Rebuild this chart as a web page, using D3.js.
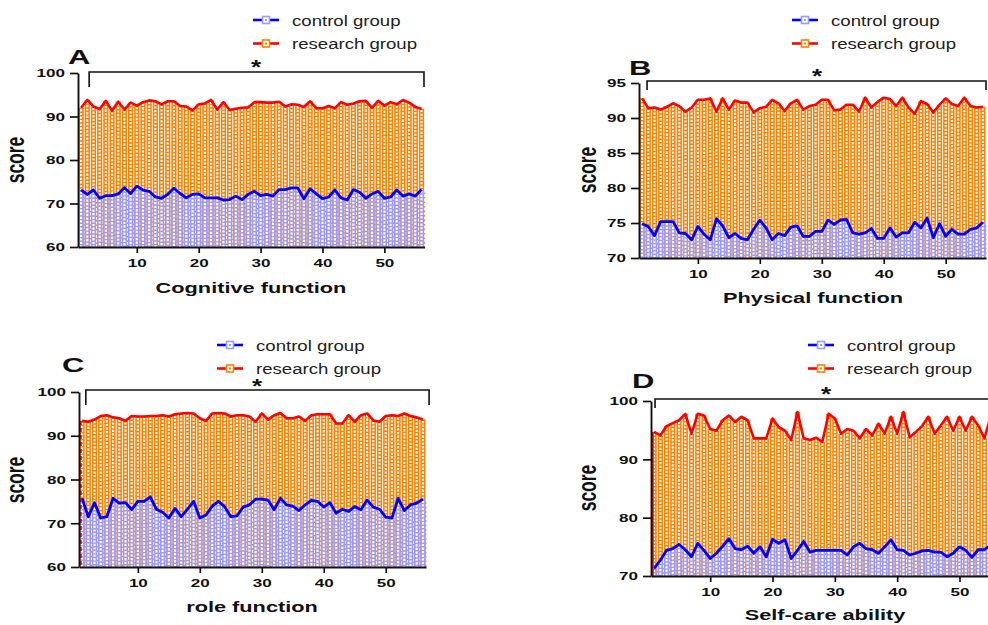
<!DOCTYPE html>
<html lang="en">
<head>
<meta charset="UTF-8">
<title>Score panels</title>
<script src="https://d3js.org/d3.v7.min.js"></script>
<style>
    body, html { margin: 0; padding: 0; background: #fff; }
    svg { display: block; }
    text { font-family: "Liberation Sans", Arial, sans-serif; fill: #111; }
</style>
</head>
<body>
<div id="chart"></div>
<script>
// values, one entry per subject (1..56)
const cogResearch = [92.0,93.8,92.3,91.7,93.6,91.3,93.4,91.6,93.2,92.5, 93.3,93.7,93.5,92.8,93.5,93.5,92.4,92.3,91.4,92.8,
    93.0,93.8,91.6,93.3,91.5,91.8,92.0,92.1,93.3,93.3, 93.2,93.2,93.4,92.3,92.8,92.7,92.2,93.5,91.9,91.9,
    92.4,91.9,93.3,92.7,93.0,93.5,93.6,92.0,93.6,92.5, 93.3,92.8,93.8,93.2,92.2,91.8];
const cogControl = [73.1,72.1,73.1,71.2,71.8,71.8,72.2,73.6,72.3,74.0, 73.1,72.8,71.5,71.2,72.1,73.5,72.3,71.3,72.1,72.2,
    71.3,71.3,71.3,70.8,70.9,71.7,70.9,72.1,72.8,71.8, 72.1,71.7,73.2,73.2,73.6,73.6,71.1,73.4,72.2,71.1,
    71.5,73.1,71.3,70.8,73.2,72.6,71.2,72.2,72.8,71.2, 71.5,73.1,71.7,72.2,71.7,73.2];
const physResearch = [92.8,91.4,91.5,91.2,91.6,92.1,91.7,90.9,91.5,92.6, 92.6,92.8,90.9,92.8,91.2,92.5,92.2,92.2,90.8,91.4,
    91.6,92.6,92.1,91.0,92.1,92.6,91.2,91.7,91.9,92.6, 92.6,91.1,91.2,91.9,91.9,90.9,92.9,91.5,92.3,92.9,
    92.7,91.7,92.9,91.5,90.6,92.4,92.0,90.8,91.9,92.8, 92.0,91.7,92.9,91.7,91.5,91.6];
const physControl = [74.9,74.5,73.2,75.2,75.2,75.2,73.6,73.5,72.6,74.5, 73.4,72.6,75.6,74.6,72.9,73.5,72.8,72.6,74.1,75.4,
    74.3,72.6,73.5,73.2,74.4,74.6,73.1,73.1,73.8,73.8, 75.4,74.8,75.4,75.5,73.6,73.4,73.6,74.2,72.8,72.8,
    74.3,73.0,73.6,73.6,75.1,74.3,75.7,72.9,74.9,73.1, 74.1,73.4,73.4,74.1,74.3,75.1];
const roleResearch = [93.4,93.2,93.7,94.5,94.7,94.2,94.0,93.4,94.5,94.4, 94.4,94.5,94.5,94.7,94.4,94.9,95.1,95.2,95.1,94.0,
    93.4,95.1,95.2,95.1,94.4,94.7,94.7,94.4,93.2,95.1, 93.7,94.7,95.2,94.0,94.0,94.4,93.4,94.7,94.9,94.9,
    94.9,92.8,92.8,94.7,93.2,94.7,95.1,93.5,93.2,94.5, 94.7,94.5,95.1,94.5,94.2,93.7];
const roleControl = [75.7,71.5,74.7,71.2,71.5,75.7,74.6,74.7,73.1,75.0, 75.0,76.0,73.2,72.5,71.2,73.4,71.5,73.2,75.0,71.2,
    71.9,73.9,75.0,73.8,71.5,71.7,73.7,74.2,75.5,75.5, 75.3,73.1,75.7,74.2,73.9,72.9,74.2,75.2,75.0,73.7,
    74.7,72.3,73.2,72.7,73.8,73.1,75.3,73.7,73.2,71.4, 71.2,75.7,72.9,74.2,74.6,75.5];
const selfResearch = [94.7,94.1,95.7,96.2,96.7,97.8,94.4,97.8,97.5,95.2, 94.9,96.7,97.5,96.4,97.3,96.7,93.6,93.6,93.6,97.0,
    95.5,94.9,93.3,98.1,93.6,93.3,93.7,93.0,97.8,97.0, 94.4,95.2,94.9,93.6,95.2,94.1,96.1,94.4,97.3,94.4,
    98.1,93.8,94.7,95.7,97.3,94.4,95.8,97.3,94.9,97.3, 94.9,97.3,95.8,93.6,97.3,95.0];
const selfControl = [71.3,72.7,74.4,74.7,75.4,74.5,73.3,75.6,74.4,73.0, 73.9,75.1,76.4,74.7,74.5,75.1,73.9,75.0,73.3,76.3,
    75.6,76.2,73.0,74.4,75.9,74.1,74.4,74.4,74.4,74.4, 74.4,73.6,75.0,75.6,74.7,74.5,73.9,75.0,76.2,74.5,
    74.4,73.6,73.9,74.3,74.4,74.1,74.1,73.3,73.9,75.0, 74.4,73.2,74.5,74.5,75.3,75.3];

const seriesNames = ["control group", "research group"];
const xTicks = [10, 20, 30, 40, 50];

const ORANGE = "#ff8000", PURPLE = "#9a9aff", RED = "#ff0000", BLUE = "#0000ff";

const panels = [
    { letter: "A", title: "Cognitive function", research: cogResearch, control: cogControl,
      yDomain: [60, 100], yTicks: [60, 70, 80, 90, 100],
      x0: 78, x1: 424.6, yTop: 73, yBot: 247, bracket: [2.3, 56.4], bracketY: 72, leg: 15,
      star: [256, 68], letterPos: [68, 64], legend: [253, 20], yLab: [18, 160], xLab: [251, 293], startLine: null },
    { letter: "B", title: "Physical function", research: physResearch, control: physControl,
      yDomain: [70, 95], yTicks: [70, 75, 80, 85, 90, 95],
      x0: 639, x1: 986, yTop: 83, yBot: 258, bracket: [1.8, 56.5], bracketY: 81, leg: 9,
      star: [817, 77], letterPos: [629, 75], legend: [792, 20], yLab: [590, 170], xLab: [813, 303], startLine: null },
    { letter: "C", title: "role function", research: roleResearch, control: roleControl,
      yDomain: [60, 100], yTicks: [60, 70, 80, 90, 100],
      x0: 79, x1: 426, yTop: 392, yBot: 567, bracket: [1.6, 57], bracketY: 390, leg: 15,
      star: [257, 387], letterPos: [62, 372], legend: [217, 345], yLab: [18, 480], xLab: [252, 612], startLine: "4,3" },
    { letter: "D", title: "Self-care ability", research: selfResearch, control: selfControl,
      yDomain: [70, 100], yTicks: [70, 80, 90, 100],
      x0: 651, x1: 1000, yTop: 401, yBot: 576, bracket: [1.15, 60], bracketY: 399, leg: 9,
      star: [826, 395], letterPos: [632, 388], legend: [808, 345], yLab: [590, 488], xLab: [825, 620], startLine: "none" }
];

const svg = d3.select("#chart").append("svg")
    .attr("width", 988)
    .attr("height", 625);

function wideText(g, x, y, str, size, weight, sx, anchor) {
    return g.append("text")
        .attr("transform", `translate(${x},${y}) scale(${sx},1)`)
        .attr("text-anchor", anchor || "start")
        .style("font-size", size + "px")
        .style("font-weight", weight)
        .text(str);
}

function drawPanel(p) {
    const g = svg.append("g");
    const x = d3.scaleLinear().domain([0.5, 56.5]).range([p.x0, p.x1]);
    const y = d3.scaleLinear().domain(p.yDomain).range([p.yBot, p.yTop]);
    const band = x(1.5) - x(0.5);
    const bw = band * 0.84;
    const idx = (d, i) => i + 1;

    // research bars (orange grid)
    const bars = g.append("g");
    bars.selectAll(".rb").data(p.research).join("rect")
        .attr("x", (d, i) => x(idx(d, i)) - bw / 2)
        .attr("width", bw)
        .attr("y", d => y(d))
        .attr("height", d => p.yBot - y(d))
        .attr("fill", ORANGE);
    bars.selectAll(".rd").data(p.research).join("line")
        .attr("x1", (d, i) => x(idx(d, i))).attr("x2", (d, i) => x(idx(d, i)))
        .attr("y1", d => y(d) + 1.5).attr("y2", p.yBot)
        .attr("stroke", "#fff").attr("stroke-width", band * 0.34)
        .attr("stroke-dasharray", "2.2,1.4");

    // control bars (purple grid) on top
    bars.selectAll(".cb").data(p.control).join("rect")
        .attr("x", (d, i) => x(idx(d, i)) - bw / 2)
        .attr("width", bw)
        .attr("y", d => y(d))
        .attr("height", d => p.yBot - y(d))
        .attr("fill", PURPLE);
    bars.selectAll(".cd").data(p.control).join("line")
        .attr("x1", (d, i) => x(idx(d, i))).attr("x2", (d, i) => x(idx(d, i)))
        .attr("y1", d => y(d) + 1.5).attr("y2", p.yBot)
        .attr("stroke", "#fff").attr("stroke-width", band * 0.34)
        .attr("stroke-dasharray", "2.2,1.4");
    bars.selectAll(".cg").data(p.control).join("line")
        .attr("x1", (d, i) => x(idx(d, i)) + band / 2).attr("x2", (d, i) => x(idx(d, i)) + band / 2)
        .attr("y1", d => y(d) + 3).attr("y2", p.yBot)
        .attr("stroke", ORANGE).attr("stroke-width", 1)
        .attr("stroke-dasharray", "1.5,3");

    // lines
    const line = d3.line().x((d, i) => x(i + 1)).y(d => y(d));
    g.append("path").datum(p.research)
        .attr("d", line).attr("fill", "none")
        .attr("stroke", RED).attr("stroke-width", 2.6).attr("stroke-linejoin", "round");
    g.append("path").datum(p.control)
        .attr("d", line).attr("fill", "none")
        .attr("stroke", BLUE).attr("stroke-width", 2.8).attr("stroke-linejoin", "round");

    if (p.startLine) {
        g.append("line")
            .attr("x1", x(0.5) + 1.5).attr("x2", x(0.5) + 1.5)
            .attr("y1", y(p.research[0])).attr("y2", p.yBot)
            .attr("stroke", RED).attr("stroke-width", 2.5)
            .attr("stroke-dasharray", p.startLine);
    }

    // axes
    const yAxis = g.append("g")
        .attr("transform", `translate(${p.x0},0)`)
        .call(d3.axisLeft(y).tickValues(p.yTicks).tickSize(8).tickSizeOuter(0));
    yAxis.selectAll("text")
        .attr("x", null).attr("dy", "0.36em")
        .attr("transform", "translate(-13,0) scale(1.55,1)")
        .style("font-size", "11px").style("font-weight", "bold").style("font-family", null);

    const xAxis = g.append("g")
        .attr("transform", `translate(0,${p.yBot})`)
        .call(d3.axisBottom(x).tickValues(xTicks).tickSize(6).tickSizeOuter(0));
    xAxis.selectAll("text")
        .attr("y", null).attr("dy", null)
        .attr("transform", "translate(0,19.5) scale(1.55,1)")
        .style("font-size", "11px").style("font-weight", "bold").style("font-family", null);

    [yAxis, xAxis].forEach(a => {
        a.select(".domain").attr("stroke", "#111").attr("stroke-width", 1.9);
        a.selectAll(".tick line").attr("stroke", "#111").attr("stroke-width", 1.7);
    });

    // significance bracket
    const bx0 = x(p.bracket[0]), bx1 = x(p.bracket[1]);
    g.append("path")
        .attr("d", `M${bx0},${p.bracketY + p.leg}V${p.bracketY}H${bx1}V${p.bracketY + p.leg}`)
        .attr("fill", "none").attr("stroke", "#111").attr("stroke-width", 1.6);
    wideText(g, p.star[0], p.star[1] + 6, "*", 20, "bold", 1.3, "middle");

    // panel letter and titles
    wideText(g, p.letterPos[0], p.letterPos[1], p.letter, 20, "bold", 1.55);
    wideText(g, p.xLab[0], p.xLab[1], p.title, 15, "bold", 1.45, "middle");
    g.append("text")
        .attr("transform", `translate(${p.yLab[0] + 6},${p.yLab[1]}) rotate(-90) scale(1,1.45)`)
        .attr("text-anchor", "middle")
        .style("font-size", "17.5px").style("font-weight", "bold")
        .text("score");

    // legend
    const legendColors = [[BLUE, PURPLE], [RED, ORANGE]];
    seriesNames.forEach((name, k) => {
        const lx = p.legend[0], ly = p.legend[1] + k * 23.5;
        const [lc, bc] = legendColors[k];
        g.append("line").attr("x1", lx).attr("x2", lx + 26).attr("y1", ly).attr("y2", ly)
            .attr("stroke", lc).attr("stroke-width", 2.6);
        g.append("rect").attr("x", lx + 9.5).attr("y", ly - 3.5).attr("width", 7).attr("height", 7)
            .attr("fill", "#fff").attr("stroke", bc).attr("stroke-width", 1.6);
        g.append("rect").attr("x", lx + 12).attr("y", ly - 1).attr("width", 2).attr("height", 2)
            .attr("fill", bc);
        wideText(g, lx + 39, ly + 5.5, name, 15.5, "normal", 1.2).style("fill", "#222");
    });
}

panels.forEach(drawPanel);
</script>
</body>
</html>
